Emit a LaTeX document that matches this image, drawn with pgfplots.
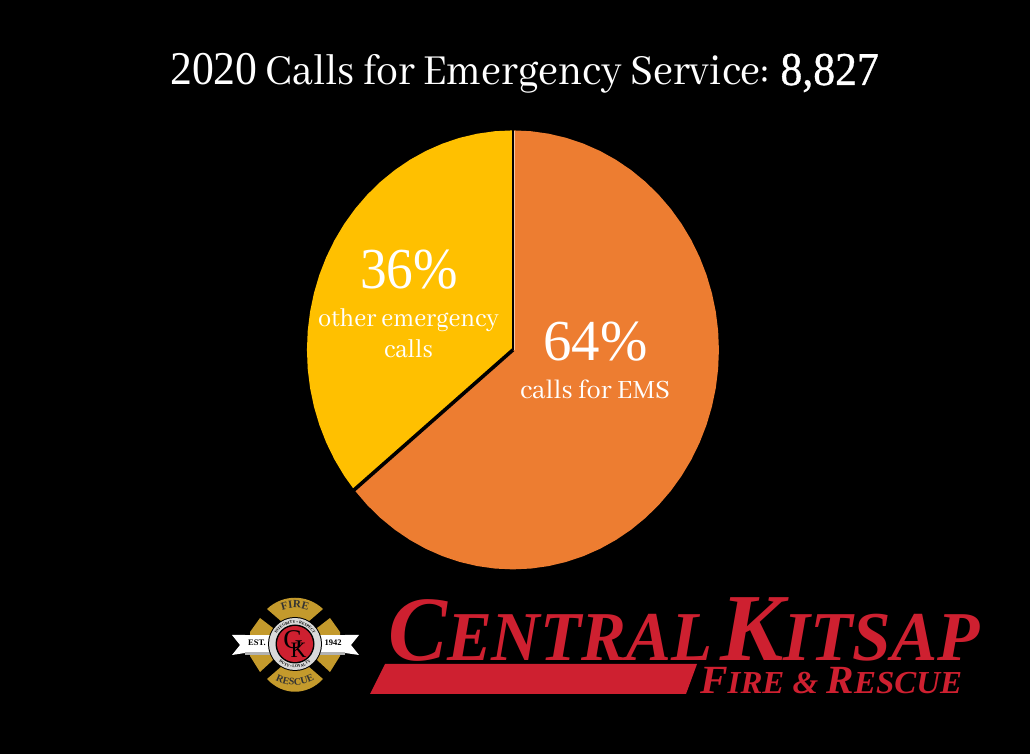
\documentclass[border=0pt]{standalone}
\usepackage{fontspec}
\usepackage{pgfplots}
\pgfplotsset{compat=1.18}
\usetikzlibrary{decorations.text}
\setmainfont{Abhaya Libre}
\newfontfamily\logofont{Liberation Serif}
\newfontfamily\semibold[FakeBold=0.8]{Liberation Serif}

\definecolor{emsorange}{HTML}{ED7D31}
\definecolor{otheryellow}{HTML}{FFC000}
\definecolor{ckred}{HTML}{CE2030}
\definecolor{ckgold}{HTML}{C49A2C}
\newcommand{\fs}[1]{\fontsize{#1}{#1}\selectfont}

\begin{document}
\begin{tikzpicture}
\fill[black] (0,0) rectangle (1030pt,754pt);
\begin{axis}[
    at={(0,0)}, anchor=south west,
    scale only axis, width=1030pt, height=754pt,
    hide axis,
    xmin=-2.490, xmax=2.510,
    ymin=-1.841, ymax=1.594,
    clip=false,
]
% 36% other calls: 129.6 degrees from the top, counter-clockwise
\addplot[data cs=polar, fill=otheryellow, draw=none] coordinates {
    (0,0) (90,1) (95,1) (100,1) (105,1) (110,1) (115,1) (120,1) (125,1) (130,1)
    (135,1) (140,1) (145,1) (150,1) (155,1) (160,1) (165,1) (170,1) (175,1)
    (180,1) (185,1) (190,1) (195,1) (200,1) (205,1) (210,1) (215,1) (219.6,1)
} -- cycle;
% 64% EMS calls: the rest, clockwise
\addplot[data cs=polar, fill=emsorange, draw=none] coordinates {
    (0,0) (90,1) (85,1) (80,1) (75,1) (70,1) (65,1) (60,1) (55,1) (50,1) (45,1)
    (40,1) (35,1) (30,1) (25,1) (20,1) (15,1) (10,1) (5,1) (0,1) (-5,1) (-10,1)
    (-15,1) (-20,1) (-25,1) (-30,1) (-35,1) (-40,1) (-45,1) (-50,1) (-55,1)
    (-60,1) (-65,1) (-70,1) (-75,1) (-80,1) (-85,1) (-90,1) (-95,1) (-100,1)
    (-105,1) (-110,1) (-115,1) (-120,1) (-125,1) (-130,1) (-135,1) (-140.4,1)
} -- cycle;
% slice edges, the vertical one has a pale rim on its right
\addplot[white!55!emsorange, line width=1pt] coordinates {(0.009,0.995) (0.009,0.0)};
\addplot[data cs=polar, black, line width=2.4pt] coordinates {(90,1.005) (0,0)};
\addplot[data cs=polar, black, line width=3.6pt] coordinates {(0,0) (219.6,1.01)};
\end{axis}

\begin{scope}[x=1pt, y=-1pt, shift={(0,754pt)}]
% numbers are in the serif with lining figures
\node[anchor=base, text=white, inner sep=0pt] at (524.5,85)
    {\scalebox{0.93}[1]{\fs{47}{\logofont 2020} Calls for Emergency Service: {\semibold 8,827}}};

\node[anchor=base, text=white, inner sep=0pt] at (409,289) {\scalebox{0.92}[1]{\logofont\fs{58}36\%}};
\node[anchor=base, text=white, inner sep=0pt] at (408.5,327) {\scalebox{0.94}[1]{\fs{28}other emergency}};
\node[anchor=base, text=white, inner sep=0pt] at (408.5,358) {\scalebox{0.94}[1]{\fs{28}calls}};
\node[anchor=base, text=white, inner sep=0pt] at (595.5,361) {\scalebox{0.98}[1]{\logofont\fs{58}64\%}};
\node[anchor=base, text=white, inner sep=0pt] at (595,399) {\scalebox{0.98}[1]{\fs{29}calls for EMS}};

% wordmark
\fill[ckred] (370,694) -- (385,664) -- (697,664) -- (686,694) -- cycle;
\node[anchor=base west, text=ckred, inner sep=0pt] at (388,661)
    {\logofont\bfseries\itshape\scalebox{0.96}[1]{\fs{92}C\fs{70}ENTRAL}};
\node[anchor=base west, text=ckred, inner sep=0pt] at (720,661)
    {\logofont\bfseries\itshape\scalebox{0.99}[1]{\fs{96}K\fs{70}ITSAP}};
\node[anchor=base west, text=ckred, inner sep=0pt] at (700,694)
    {\logofont\bfseries\itshape\scalebox{1.03}[1]{\fs{40}F\fs{32}IRE \fs{32}\& \fs{40}R\fs{32}ESCUE}};

% badge
\begin{scope}[shift={(295,644)}]
\fill[ckgold] (-28,-35) .. controls (-12,-50) and (12,-50) .. (28,-35) -- (13,-22)
    .. controls (5,-26) and (-5,-26) .. (-13,-22) -- cycle;
\fill[ckgold] (-28,35) .. controls (-12,52) and (12,52) .. (28,35) -- (13,22)
    .. controls (5,26) and (-5,26) .. (-13,22) -- cycle;
\fill[ckgold] (-35,-26) -- (-45,-12) -- (-45,12) -- (-35,28) -- (-22,16) -- (-22,-16) -- cycle;
\fill[ckgold] (35,-26) -- (45,-12) -- (45,12) -- (35,28) -- (22,16) -- (22,-16) -- cycle;
\fill[white] (-50,-9) -- (-63,-9) -- (-55,1) -- (-63,11) -- (-50,9) -- cycle;
\fill[white] (50,-9) -- (64,-9) -- (56,1) -- (64,11) -- (50,9) -- cycle;
\fill[black!30] (-50,8) rectangle (-25,11);
\fill[black!30] (25,8) rectangle (50,11);
\fill[white] (-51,-9) rectangle (-25,8);
\fill[white] (25,-9) rectangle (51,8);
\node[text=black, inner sep=0pt] at (-38,-1) {\logofont\fs{8.5}\textbf{EST.}};
\node[text=black, inner sep=0pt] at (38,-1) {\logofont\fs{8.5}\textbf{1942}};
\fill[black] (0,0) circle (27);
\fill[white!85!black] (0,0) circle (26);
\fill[black] (0,0) circle (19.5);
\fill[ckred] (0,0) circle (18);
\begin{scope}[y=1pt]
\path[postaction={decorate, decoration={text along path, text align=center,
    text={|\logofont\fs{11}\bfseries\color{black!80}|FIRE}}}]
    (-25,26) arc[start angle=134, end angle=46, radius=36];
\path[postaction={decorate, decoration={text along path, text align=center,
    text={|\logofont\fs{10}\bfseries\color{black!80}|RESCUE}}}]
    (-28,-30) arc[start angle=227, end angle=313, radius=41];
\path[postaction={decorate, decoration={text along path, text align=center,
    text={|\logofont\fs{4}\bfseries\color{black}|INTEGRITY {\textbullet} RESPECT}}}]
    (-21,1) arc[start angle=177, end angle=3, radius=21];
\path[postaction={decorate, decoration={text along path, text align=center,
    text={|\logofont\fs{4}\bfseries\color{black}|DUTY {\textbullet} LOYALTY}}}]
    (-24,-1) arc[start angle=183, end angle=357, radius=24];
\end{scope}
\node[text=black, inner sep=0pt] at (-2,-4) {\logofont\fs{27}G};
\node[text=black, inner sep=0pt] at (3.5,6) {\logofont\fs{22}K};
\end{scope}
\end{scope}
\end{tikzpicture}
\end{document}
